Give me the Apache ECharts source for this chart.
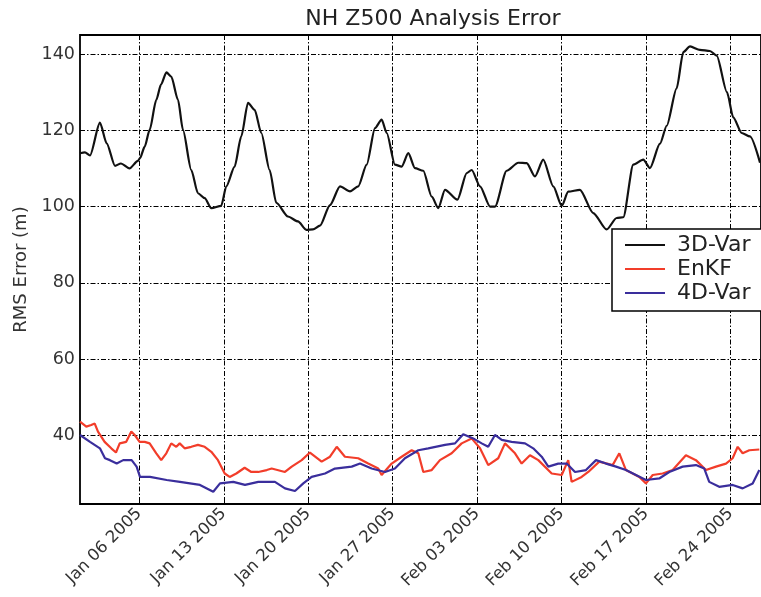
<!DOCTYPE html>
<html><head><meta charset="utf-8">
<script src="https://cdn.jsdelivr.net/npm/echarts@6/dist/echarts.min.js"></script>
<style>html,body{margin:0;padding:0;background:#fff}#c{width:761px;height:597px}</style>
</head><body><div id="c"></div>
<script>
// x values: days since 2005-01-01 00Z
const tickLabels = ['Jan 06 2005','Jan 13 2005','Jan 20 2005','Jan 27 2005','Feb 03 2005','Feb 10 2005','Feb 17 2005','Feb 24 2005'];
const tickDays = [5,12,19,26,33,40,47,54];
const yTicks = [40,60,80,100,120,140];

const var3dDay = [0.09,0.50,0.92,1.74,2.30,2.99,3.48,4.19,4.89,5.06,5.45,5.86,6.41,6.80,7.25,7.65,8.21,8.62,9.31,9.86,10.42,10.97,11.79,12.21,12.90,13.45,14.01,14.56,15.11,15.80,16.35,17.32,18.15,18.84,19.39,19.97,20.80,21.63,22.46,23.14,23.84,24.53,25.08,25.50,26.18,26.74,27.29,27.84,28.53,29.23,29.77,30.33,31.36,32.13,32.54,33.23,34.06,34.47,35.44,36.40,37.10,37.78,38.47,39.30,40.00,40.54,41.51,42.61,43.72,44.55,45.10,45.93,46.76,47.31,48.14,48.70,49.52,50.07,50.63,51.45,52.28,52.84,53.69,54.21,54.91,55.60,56.43];
const var3dVal = [114,114.2,113.4,122,116.6,110.7,111.3,110,112,112.7,115.7,120.1,128,132,135.2,134.1,128,120.1,109.6,103.5,102.2,99.6,100.2,105.3,110.5,118.4,127.2,125.4,119.3,109.6,101,97.4,96.1,93.9,94,95,100.4,105.3,104,105.3,111,120.6,122.8,119.3,111,110.5,114,110.1,109.4,102.6,99.6,104.4,101.8,108.8,109.6,105.3,100,100,109.4,111.5,111.4,107.9,112.3,105.3,100.2,103.9,104.4,98.3,94,97,97.2,111,112.3,110.1,116.5,121.2,131,140.5,142,141.1,140.8,139.6,130,123.4,119.3,118.4,111.5];

const enkfDay = [0.09,0.61,1.02,1.31,1.58,2.13,2.68,3.07,3.38,3.92,4.34,4.62,5.03,5.45,5.86,6.41,6.82,7.24,7.65,8.07,8.35,8.76,9.31,9.86,10.42,10.97,11.52,12.08,12.49,13.04,13.73,14.28,14.86,15.56,15.97,17.07,17.63,18.46,19.14,20.11,20.80,21.36,22.04,23.14,23.97,24.80,25.08,25.91,26.74,27.57,28.12,28.53,29.23,29.91,30.88,31.71,32.54,33.23,33.91,34.74,35.30,36.13,36.68,37.37,38.06,39.17,40.00,40.54,40.82,41.65,42.20,43.11,44.22,44.77,45.32,46.43,46.98,47.54,48.36,49.19,50.29,51.12,51.95,52.78,53.61,54.16,54.58,54.99,55.54,56.37];
const enkfVal = [43.6,42.3,42.7,43.1,41,38.3,36.6,35.5,37.9,38.3,41,40.1,38.3,38.3,37.9,35.3,33.5,35.3,37.9,37,37.9,36.6,37,37.5,37,35.7,33.5,30,29.1,30,31.5,30.4,30.4,30.9,31.3,30.4,31.8,33.5,35.5,33.1,34.4,37,34.4,34,32.6,31.3,29.6,32.6,34.4,36.1,35.3,30.4,30.9,33.5,35.3,37.9,39.2,36.6,32.2,34,37.9,35.3,32.6,34.8,33.5,30,29.6,33.5,27.8,29.1,30.4,33.1,32.2,35.3,30.9,29.1,27.4,29.6,30,30.9,34.8,33.5,30.9,31.8,32.6,34,37,35.3,36.1,36.3];

const var4dDay = [0.09,0.92,1.74,2.16,2.57,3.13,3.67,4.37,4.78,5.06,5.89,7.27,8.37,10.03,11.13,11.69,12.79,13.76,14.86,16.24,17.07,17.90,18.59,19.28,20.39,21.21,22.60,23.29,24.25,25.36,26.18,27.01,28.12,28.94,30.33,31.16,31.84,32.67,33.37,33.91,34.47,35.03,35.85,36.96,37.64,38.34,38.89,39.71,40.41,41.10,42.01,42.84,43.67,44.50,45.32,46.15,46.98,48.08,48.91,50.02,51.12,51.81,52.22,53.05,54.16,54.99,55.82,56.37];
const var4dVal = [40.1,38.3,36.6,34,33.5,32.6,33.5,33.5,31.8,29.1,29.1,28.3,27.8,27,25.2,27.4,27.8,27,27.8,27.8,26.1,25.4,27.4,29.1,30,31.3,31.8,32.6,31.3,30.4,31.3,34,36.1,36.6,37.5,37.9,40.3,39.2,37.9,37,40.1,38.8,38.3,37.9,36.6,34.4,31.8,32.6,32.6,30.4,30.9,33.5,32.6,31.8,30.9,29.6,28.3,28.7,30.4,31.8,32.2,31.3,27.8,26.5,27,26.1,27.4,30.9];

const DAY = 86400000, T0 = Date.UTC(2005, 0, 1);
const toMs = d => T0 + d * DAY;
const pairs = (days, vals) => days.map((d, i) => [toMs(d), vals[i]]);
const tickMs = tickDays.map(toMs);
const FONT = 'DejaVu Sans';

const chart = echarts.init(document.getElementById('c'), null, {renderer: 'canvas'});
const grid = {type: [5, 2, 1.5, 2], color: '#000', width: 1};
chart.setOption({
  animation: false,
  backgroundColor: '#fff',
  title: {text: 'NH Z500 Analysis Error', left: 428, top: 3, textAlign: 'center',
    textStyle: {fontFamily: FONT, fontSize: 22, fontWeight: 'normal', color: '#222'}},
  grid: {left: 80, top: 35, bottom: 93, right: -3, show: true, borderColor: '#000', borderWidth: 1.8, containLabel: false},
  legend: {
    orient: 'vertical', left: 612, top: 229, padding: [5, 22, 7, 13], itemGap: 2,
    itemWidth: 40, itemHeight: 2, icon: 'rect',
    borderColor: '#000', borderWidth: 1.5, backgroundColor: '#fff',
    textStyle: {fontFamily: FONT, fontSize: 22, lineHeight: 22, color: '#222', padding: [0, 0, 0, 7]},
    data: ['3D-Var', 'EnKF', '4D-Var']
  },
  xAxis: {
    type: 'value', min: toMs(0.09), max: toMs(56.51),
    axisLine: {show: false},
    axisTick: {show: true, inside: true, length: 5, lineStyle: {color: '#000'}, customValues: tickMs},
    splitLine: {show: true, lineStyle: grid},
    axisLabel: {customValues: tickMs, rotate: 45, margin: 7, fontFamily: FONT, fontSize: 16.5, color: '#333',
      formatter: v => { const i = tickMs.findIndex(t => Math.abs(t - v) < 1000); return i >= 0 ? tickLabels[i] : ''; }}
  },
  yAxis: {
    type: 'value', min: 22, max: 145,
    name: 'RMS Error (m)', nameLocation: 'middle', nameGap: 39,
    nameTextStyle: {fontFamily: FONT, fontSize: 18, color: '#333'},
    axisLine: {show: false},
    axisTick: {show: true, inside: true, length: 5, lineStyle: {color: '#000'}, customValues: yTicks},
    splitLine: {show: true, lineStyle: grid},
    axisLabel: {customValues: yTicks, margin: 5, fontFamily: FONT, fontSize: 17.5, color: '#333'}
  },
  series: [
    {name: '3D-Var', type: 'line', data: pairs(var3dDay, var3dVal), showSymbol: false, symbol: 'none',
      smooth: 0.25, smoothMonotone: 'x',
      lineStyle: {color: '#111', width: 2.2}, itemStyle: {color: '#111'}, z: 3},
    {name: 'EnKF', type: 'line', data: pairs(enkfDay, enkfVal), showSymbol: false, symbol: 'none',
      lineStyle: {color: '#f23d2a', width: 2.2}, itemStyle: {color: '#f23d2a'}, z: 2},
    {name: '4D-Var', type: 'line', data: pairs(var4dDay, var4dVal), showSymbol: false, symbol: 'none',
      lineStyle: {color: '#3a2e9c', width: 2.2}, itemStyle: {color: '#3a2e9c'}, z: 3}
  ]
});
</script></body></html>
